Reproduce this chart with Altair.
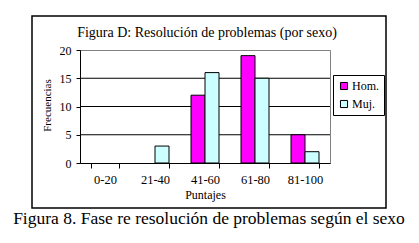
import altair as alt
import pandas as pd

categories = ["0-20", "21-40", "41-60", "61-80", "81-100"]
hom = [0, 0, 12, 19, 5]
muj = [0, 3, 16, 15, 2]
series = ["Hom.", "Muj."]
colors = ["#FF00FF", "#CCFFFF"]
y_ticks = [0, 5, 10, 15, 20]
grid_values = [5, 10, 15]

title_text = "Figura D: Resolución de problemas (por sexo)"
caption_text = "Figura 8. Fase re resolución de problemas según el sexo"

rows = []
for c, h, m in zip(categories, hom, muj):
    rows.append({"cat": c, "sexo": series[0], "f": h})
    rows.append({"cat": c, "sexo": series[1], "f": m})
df = pd.DataFrame(rows)

FONT = "'Times New Roman', 'Liberation Serif', serif"
W, H = 250, 113

yscale = alt.Scale(domain=[0, 20], nice=False)
y_axis = alt.Axis(
    title="Frecuencias",
    values=y_ticks,
    grid=False,
    ticks=True,
    tickSize=4,
    tickWidth=1,
    tickColor="black",
    domainColor="black",
    labelPadding=5,
    labelFontSize=12,
    labelColor="black",
    titleFontSize=11,
    titleFontWeight="normal",
    titleColor="black",
    titleX=-33,
    titleY=55,
    titleAngle=-90,
    titleAlign="center",
    titleBaseline="middle",
)

grid = alt.Chart(pd.DataFrame({"g": grid_values})).mark_rule(
    color="black", strokeWidth=1
).encode(y=alt.Y("g:Q", scale=yscale, axis=y_axis))

bars = alt.Chart(df).transform_filter("datum.f > 0").mark_bar(
    stroke="black", strokeWidth=1
).encode(
    x=alt.X(
        "cat:N",
        sort=categories,
        scale=alt.Scale(domain=categories, paddingInner=0.44, paddingOuter=0.22),
        axis=alt.Axis(
            title="Puntajes",
            labelAngle=0,
            ticks=True,
            tickBand="extent",
            tickSize=5,
            tickWidth=1,
            tickColor="black",
            domainColor="black",
            labelPadding=5,
            labelFontSize=12.5,
            labelColor="black",
            titleFontSize=12,
            titleFontWeight="normal",
            titleColor="black",
            titleY=31,
            titleBaseline="middle",
        ),
    ),
    xOffset=alt.XOffset("sexo:N", sort=series, scale=alt.Scale(domain=series)),
    y=alt.Y("f:Q", scale=yscale, axis=y_axis),
    color=alt.Color(
        "sexo:N",
        sort=series,
        scale=alt.Scale(domain=series, range=colors),
        legend=alt.Legend(
            title=None,
            orient="none",
            legendX=253,
            legendY=25,
            symbolType="square",
            symbolSize=50,
            symbolStrokeColor="black",
            symbolStrokeWidth=1,
            labelFontSize=12,
            labelOffset=2,
            labelColor="black",
            strokeColor="black",
            padding=5,
            rowPadding=6,
            fillColor="white",
        ),
    ),
)

title = alt.Chart(pd.DataFrame({"t": [title_text]})).mark_text(
    font=FONT, fontSize=14, color="black", align="center", baseline="middle"
).encode(x=alt.value(127), y=alt.value(-17), text="t:N")

cap = alt.Chart(pd.DataFrame({"t": [caption_text]})).mark_text(
    font=FONT, fontSize=17.5, color="black", align="center", baseline="middle"
).encode(x=alt.value(129), y=alt.value(169), text="t:N")

frame = alt.Chart(pd.DataFrame({"a": [0]})).mark_rect(
    fill=None, stroke="black", strokeWidth=1.5
).encode(
    x=alt.value(-48), x2=alt.value(306), y=alt.value(-34), y2=alt.value(158)
)

chart = (
    alt.layer(grid, bars, title, cap, frame)
    .properties(
        width=W,
        height=H,
        autosize=alt.AutoSizeParams(type="none"),
        padding={"left": 72, "top": 42, "right": 81, "bottom": 72},
        background="white",
    )
    .configure(font=FONT)
    .configure_axis(labelFont=FONT, titleFont=FONT)
    .configure_legend(labelFont=FONT)
    .configure_view(stroke="#808080", strokeWidth=1)
)

chart.save("out.html", embed_options={"renderer": "svg", "actions": False})
